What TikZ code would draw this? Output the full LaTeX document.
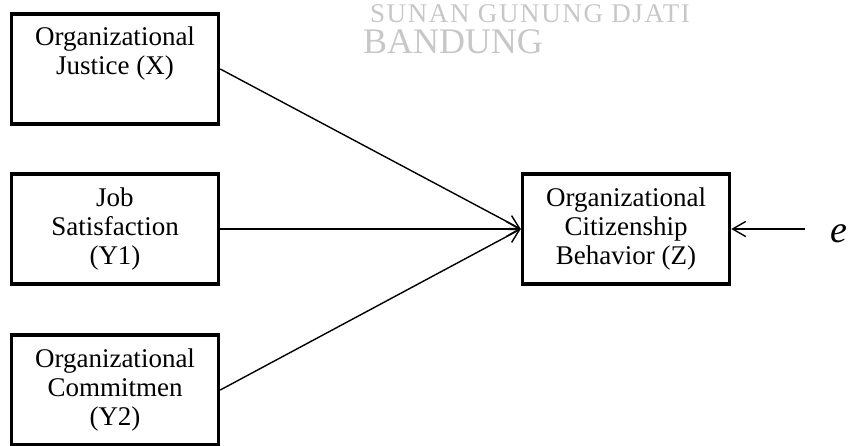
\documentclass[tikz,border=0pt]{standalone}
\usepackage{fontspec}
\setmainfont{Liberation Serif}
\newfontfamily\wmfont[LetterSpace=6]{Liberation Serif}
\usetikzlibrary{arrows.meta}

\begin{document}
\begin{tikzpicture}[x=1pt,y=-1pt,
    box/.style={draw, rectangle, line width=3.5pt, minimum width=207pt,
      minimum height=110pt, inner sep=0pt, align=center,
      font=\fontsize{27}{29}\selectfont},
    link/.style={line width=1.4pt,
      -{Straight Barb[length=13pt,width=15pt,line width=1.4pt]}},
    wmtext/.style={text=black!22, anchor=base, inner sep=0pt}]

  \useasboundingbox (0,0) rectangle (848,445);
  \clip (0,0) rectangle (848,445);

  % watermark
  \node[wmtext, font=\wmfont\fontsize{27}{29}\selectfont] (wm1) at (530,22) {SUNAN GUNUNG DJATI};
  \node[wmtext, font=\fontsize{36}{38}\selectfont] (wm2) at (453,53) {BANDUNG};

  \begin{scope}[every node/.style={box}]
    \node (x)  at (115,69)   {Organizational\\Justice (X)\\\strut};
    \node (y1) at (115,229)  {Job\\Satisfaction\\(Y1)};
    \node (y2) at (115,390)  {Organizational\\Commitmen\\(Y2)};
    \node (z)  at (626,229)  {Organizational\\Citizenship\\Behavior (Z)};
  \end{scope}

  \node[font=\fontsize{38}{40}\selectfont\itshape, anchor=base] (e) at (839,242) {e};

  \begin{scope}[every path/.style={link}]
    \path (x.east)  edge (z.west);
    \path (y1.east) edge (z.west);
    \path (y2.east) edge (z.west);
    \path[shorten <=22pt] (e.west |- z) edge (z.east);
  \end{scope}

\end{tikzpicture}
\end{document}
